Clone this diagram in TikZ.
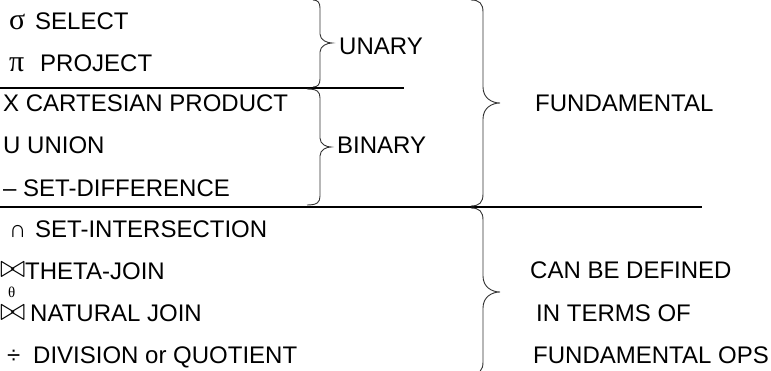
\documentclass[tikz,border=0pt]{standalone}
\usepackage{fontspec}
\usepackage{graphicx}
\setmainfont{Liberation Sans}
\newfontfamily\symserif{Liberation Serif}
\newcommand\rbracepath[8]{% #1 curl-end x, #2 vertical x, #3 top y, #4 bottom y, #5 tip y, #6 tip x, #7 curl radius, #8 tip radius
  \draw[bracestroke] (#1,#3) .. controls (#2-0.3*#7,#3) and (#2,#3+0.3*#7) .. (#2,#3+#7) -- (#2,#5-#8)
    .. controls (#2,#5-0.3*#8) and (#6-0.5*#8,#5) .. (#6,#5)
    .. controls (#6-0.5*#8,#5) and (#2,#5+0.3*#8) .. (#2,#5+#8)
    -- (#2,#4-#7) .. controls (#2,#4-0.3*#7) and (#2-0.3*#7,#4) .. (#1,#4);}
\newcommand\bigbowtie{\scalebox{1.25}[1.3]{$\bowtie$}}
\begin{document}
\begin{tikzpicture}[x=1pt,y=-1pt,
  txt/.style={anchor=base west,inner sep=0pt,font=\fontsize{24}{28}\selectfont},
  sym/.style={anchor=base west,inner sep=0pt,font=\fontsize{30}{32}\selectfont\symserif},
  joinsym/.style={anchor=base west,inner sep=0pt,font=\fontsize{24}{28}\selectfont},
  bracestroke/.style={line width=0.9pt,black!80},
  rule/.style={line width=1.1pt,black}]
\useasboundingbox (0,0) rectangle (771,371);
% left column
\node[sym] (ssig) at (9,29.5) {σ};
\node[txt] (tsel) at (35,29.5) {SELECT};
\node[sym] (spi) at (9,72) {π};
\node[txt] (tproj) at (40,72) {PROJECT};
\node[txt] (tcart) at (3,112) {X CARTESIAN PRODUCT};
\node[txt] (tuni) at (3,154) {U UNION};
\node[txt] (tdiff) at (3,197) {– SET-DIFFERENCE};
\node[txt] (sint) at (9,238) {∩};
\node[txt] (tint) at (35,238) {SET-INTERSECTION};
\node[joinsym] (sth) at (0,278) {\bigbowtie};
\node[sym,font=\fontsize{15}{16}\selectfont\symserif] (theta) at (8,298) {θ};
\node[txt] (tth) at (25,280) {THETA-JOIN};
\node[joinsym] (snat) at (0,320) {\bigbowtie};
\node[txt] (tnat) at (30,322) {NATURAL JOIN};
\node[txt] (sdiv) at (7,363) {÷};
\node[txt] (tdiv) at (33,363) {DIVISION or QUOTIENT};
% right labels
\node[txt] (unary) at (339,55) {UNARY};
\node[txt] (binary) at (337,154) {BINARY};
\node[txt] (fund) at (535,112) {FUNDAMENTAL};
\node[txt] (can) at (530,279) {CAN BE DEFINED};
\node[txt] (terms) at (536,322) {IN TERMS OF};
\node[txt] (fops) at (533,363) {FUNDAMENTAL OPS};
% rules
\coordinate (r1a) at (0,88); \coordinate (r1b) at (404,88);
\coordinate (r2a) at (0,207); \coordinate (r2b) at (702,207);
\draw[rule] (r1a) -- (r1b);
\draw[rule] (r2a) -- (r2b);
% braces
\rbracepath{313}{320}{0}{87}{43}{332}{8}{9}
\rbracepath{307}{320}{89}{205}{147}{331}{9}{9}
\rbracepath{471}{483}{0}{206}{103}{500}{12}{16}
\rbracepath{471}{483}{208}{374}{292}{500}{12}{16}
\end{tikzpicture}
\end{document}
